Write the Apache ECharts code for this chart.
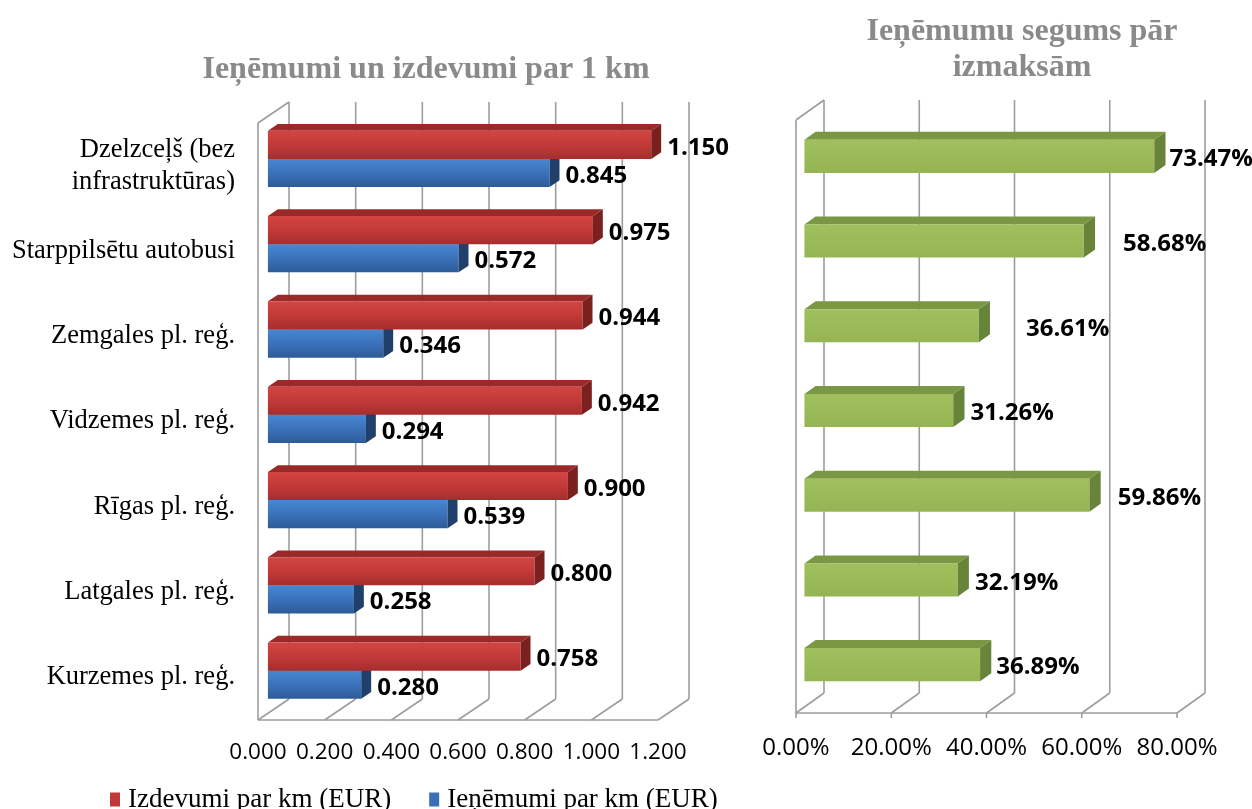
<!DOCTYPE html>
<html>
<head>
<meta charset="utf-8">
<script src="https://cdn.jsdelivr.net/npm/echarts@6/dist/echarts.min.js"></script>
<style>
    html, body { margin: 0; padding: 0; background: #fff; }
    #chart { width: 1252px; height: 809px; }
</style>
</head>
<body>
<div id="chart"></div>
<script>
// categories, top to bottom
const categories = [
    "Dzelzceļš (bez\ninfrastruktūras)",
    "Starppilsētu autobusi",
    "Zemgales pl. reģ.",
    "Vidzemes pl. reģ.",
    "Rīgas pl. reģ.",
    "Latgales pl. reģ.",
    "Kurzemes pl. reģ."
];
const izdevumi = [1.150, 0.975, 0.944, 0.942, 0.900, 0.800, 0.758];
const ienemumi = [0.845, 0.572, 0.346, 0.294, 0.539, 0.258, 0.280];
const segums = [0.7347, 0.5868, 0.3661, 0.3126, 0.5986, 0.3219, 0.3689];

const leftTicks = [0, 0.2, 0.4, 0.6, 0.8, 1.0, 1.2];
const rightTicks = [0, 0.2, 0.4, 0.6, 0.8];

// label gaps on the right chart, as placed in the original
const segumsLabelGap = [4, 28, 36, 6, 17, 6, 5];

const GRID_COLOR = "#9d9d9d";
const LEFT_DEPTH = [31, -21];
const RIGHT_DEPTH = [28, -20];

function frameRenderer(ticks, depth, withTicks) {
    return function (params, api) {
        const cs = params.coordSys;
        const top = cs.y, bottom = cs.y + cs.height, left = cs.x;
        const dx = depth[0], dy = depth[1];
        const lines = [];
        const line = (x1, y1, x2, y2) => lines.push({
            type: "line",
            shape: {x1: x1, y1: y1, x2: x2, y2: y2},
            style: {stroke: GRID_COLOR, lineWidth: 1.6}
        });
        ticks.forEach(function (t) {
            const x = api.coord([t, 0])[0];
            line(x + dx, top + dy, x + dx, bottom + dy);
            line(x, bottom, x + dx, bottom + dy);
            if (withTicks) {
                line(x, bottom, x, bottom + 5);
            }
        });
        const xEnd = api.coord([ticks[ticks.length - 1], 0])[0];
        line(left, top, left, bottom);
        line(left, top, left + dx, top + dy);
        line(left, bottom, xEnd, bottom);
        return {type: "group", children: lines};
    };
}

function barRenderer(opt) {
    return function (params, api) {
        const value = api.value(0);
        const cat = api.value(1);
        const base = api.coord([0, cat]);
        const end = api.coord([value, cat]);
        const band = api.size([0, 1])[1];
        const fx = opt.depth[0] * opt.d0, fy = opt.depth[1] * opt.d0;
        const sx = opt.depth[0] * (opt.d1 - opt.d0), sy = opt.depth[1] * (opt.d1 - opt.d0);
        const x0 = base[0] + fx, x1 = end[0] + fx;
        const y0 = base[1] + band * opt.from + fy, y1 = base[1] + band * opt.to + fy;
        const gap = opt.gaps ? opt.gaps[params.dataIndex] : 6;
        return {
            type: "group",
            children: [
                {
                    type: "polygon",
                    shape: {points: [[x0, y0], [x1, y0], [x1 + sx, y0 + sy], [x0 + sx, y0 + sy]]},
                    style: {fill: opt.topColor}
                },
                {
                    type: "rect",
                    shape: {x: x0, y: y0, width: x1 - x0, height: y1 - y0},
                    style: {
                        fill: new echarts.graphic.LinearGradient(0, 0, 0, 1, [
                            {offset: 0, color: opt.frontColors[0]},
                            {offset: 0.5, color: opt.frontColors[1]},
                            {offset: 1, color: opt.frontColors[2]}
                        ])
                    }
                },
                {
                    type: "polygon",
                    shape: {points: [[x1, y0], [x1 + sx, y0 + sy], [x1 + sx, y1 + sy], [x1, y1]]},
                    style: {fill: opt.sideColor}
                },
                {
                    type: "text",
                    x: x1 + sx + gap,
                    y: (y0 + y1) / 2 + 3,
                    style: {
                        text: opt.format(value),
                        fill: "#000",
                        fontFamily: "Open Sans",
                        fontWeight: "bold",
                        fontSize: 24,
                        align: "left",
                        verticalAlign: "middle"
                    }
                }
            ]
        };
    };
}

const chart = echarts.init(document.getElementById("chart"));

const option = {
    animation: false,
    backgroundColor: "#fff",
    title: [
        {
            text: "Ieņēmumi un izdevumi par 1 km",
            left: 421,
            top: 49,
            textAlign: "center",
            textStyle: {fontFamily: "Liberation Serif", fontWeight: "bold", fontSize: 32, color: "#8a8a8a"}
        },
        {
            text: "Ieņēmumu segums pār\nizmaksām",
            left: 1017,
            top: 9,
            textAlign: "center",
            textStyle: {fontFamily: "Liberation Serif", fontWeight: "bold", fontSize: 32, lineHeight: 36, color: "#8a8a8a"}
        }
    ],
    legend: {
        data: ["Izdevumi par km (EUR)", "Ieņēmumi par km (EUR)"],
        left: 110,
        top: 786,
        padding: 0,
        icon: "rect",
        itemWidth: 10,
        itemHeight: 14,
        itemGap: 38,
        textStyle: {fontFamily: "Liberation Serif", fontSize: 27, color: "#000", padding: [0, 0, 0, 3]}
    },
    grid: [
        {left: 258, top: 123, width: 400, height: 597},
        {left: 796, top: 120, width: 381, height: 593}
    ],
    xAxis: [
        {
            type: "value", gridIndex: 0, min: 0, max: 1.2, interval: 0.2,
            axisLine: {show: false}, axisTick: {show: false}, splitLine: {show: false},
            axisLabel: {
                margin: 21, color: "#000", fontFamily: "Open Sans", fontSize: 22.5,
                formatter: v => v.toFixed(3)
            }
        },
        {
            type: "value", gridIndex: 1, min: 0, max: 0.8, interval: 0.2,
            axisLine: {show: false}, axisTick: {show: false}, splitLine: {show: false},
            axisLabel: {
                margin: 23, color: "#000", fontFamily: "Open Sans", fontSize: 24,
                formatter: v => (v * 100).toFixed(2) + "%"
            }
        }
    ],
    yAxis: [
        {
            type: "category", gridIndex: 0, inverse: true, data: categories,
            axisLine: {show: false}, axisTick: {show: false},
            axisLabel: {
                margin: 23, color: "#000", fontFamily: "Liberation Serif", fontSize: 26.5,
                lineHeight: 32, align: "right"
            }
        },
        {
            type: "category", gridIndex: 1, inverse: true, data: categories,
            axisLine: {show: false}, axisTick: {show: false}, axisLabel: {show: false}
        }
    ],
    series: [
        {
            type: "custom", xAxisIndex: 0, yAxisIndex: 0, z: 1, silent: true,
            renderItem: frameRenderer(leftTicks, LEFT_DEPTH, false),
            data: [[0, 0]]
        },
        {
            type: "custom", xAxisIndex: 1, yAxisIndex: 1, z: 1, silent: true,
            renderItem: frameRenderer(rightTicks, RIGHT_DEPTH, true),
            data: [[0, 0]]
        },
        {
            name: "Ieņēmumi par km (EUR)",
            type: "custom", xAxisIndex: 0, yAxisIndex: 0, z: 2,
            itemStyle: {color: "#3a70b8"},
            renderItem: barRenderer({
                depth: LEFT_DEPTH, d0: 0.32, d1: 0.64, from: 0, to: 0.33,
                topColor: "#2c5a94", sideColor: "#213f6b",
                frontColors: ["#4787d3", "#3b72ba", "#2d5b98"],
                format: v => v.toFixed(3)
            }),
            encode: {x: 0, y: 1},
            data: ienemumi.map((v, i) => [v, i])
        },
        {
            name: "Izdevumi par km (EUR)",
            type: "custom", xAxisIndex: 0, yAxisIndex: 0, z: 3,
            itemStyle: {color: "#c0393a"},
            renderItem: barRenderer({
                depth: LEFT_DEPTH, d0: 0.32, d1: 0.64, from: -0.33, to: 0,
                topColor: "#992a29", sideColor: "#7a2120",
                frontColors: ["#d24542", "#c23a38", "#a52e2d"],
                format: v => v.toFixed(3)
            }),
            encode: {x: 0, y: 1},
            data: izdevumi.map((v, i) => [v, i])
        },
        {
            name: "Ieņēmumu segums",
            type: "custom", xAxisIndex: 1, yAxisIndex: 1, z: 2,
            itemStyle: {color: "#9bbb59"},
            renderItem: barRenderer({
                depth: RIGHT_DEPTH, d0: 0.3, d1: 0.7, from: -0.195, to: 0.195,
                topColor: "#7a9844", sideColor: "#67843a",
                frontColors: ["#a0c05e", "#9bbb59", "#95b554"],
                gaps: segumsLabelGap,
                format: v => (v * 100).toFixed(2) + "%"
            }),
            encode: {x: 0, y: 1},
            data: segums.map((v, i) => [v, i])
        }
    ]
};

chart.setOption(option);
</script>
</body>
</html>
